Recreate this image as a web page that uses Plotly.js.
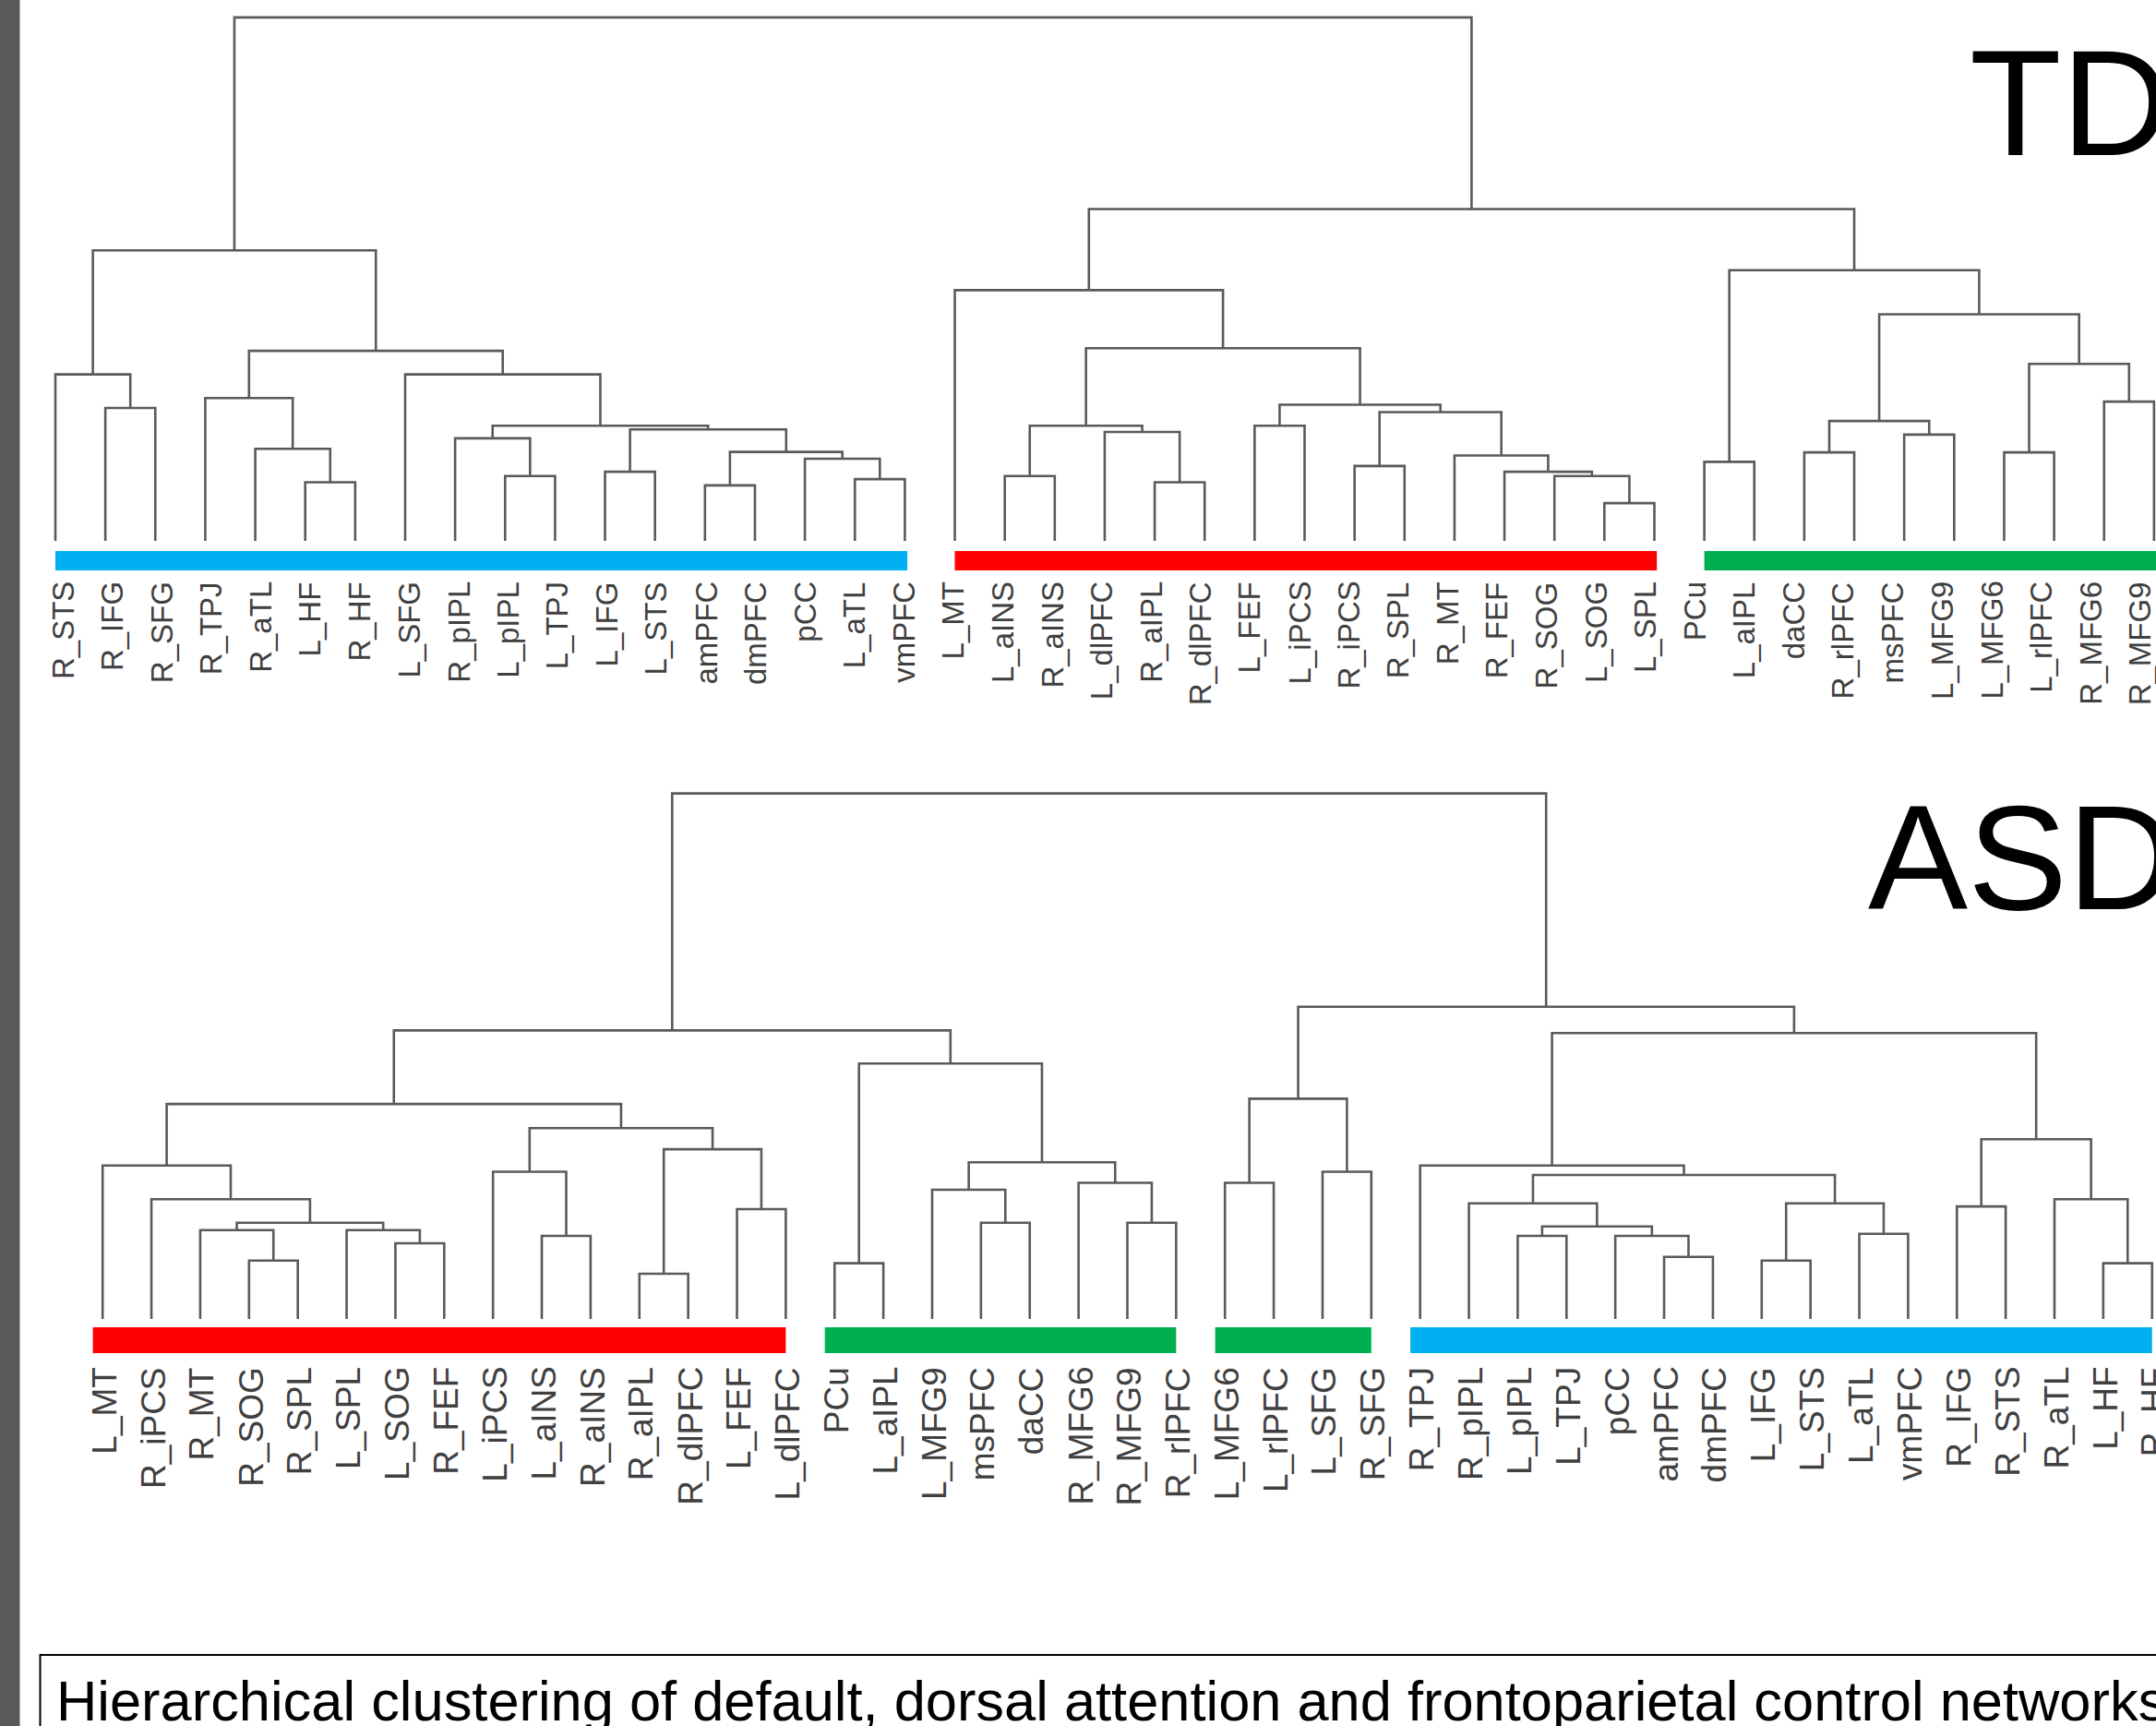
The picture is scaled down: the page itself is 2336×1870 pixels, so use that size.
<!DOCTYPE html>
<html><head><meta charset="utf-8">
<script src="https://cdn.plot.ly/plotly-3.0.1.min.js"></script>
<style>html,body{margin:0;padding:0;background:#fff;overflow:hidden}</style>
</head><body><div id="chart" style="width:2336px;height:1870px"></div>
<script>
// ---------------- DATA ----------------
// Leaf order (tick labels) of the two dendrograms
const tdLeaves = ["R_STS","R_IFG","R_SFG","R_TPJ","R_aTL","L_HF","R_HF","L_SFG","R_pIPL","L_pIPL","L_TPJ","L_IFG","L_STS","amPFC","dmPFC","pCC","L_aTL","vmPFC",
  "L_MT","L_aINS","R_aINS","L_dlPFC","R_aIPL","R_dlPFC","L_FEF","L_iPCS","R_iPCS","R_SPL","R_MT","R_FEF","R_SOG","L_SOG","L_SPL",
  "PCu","L_aIPL","daCC","R_rlPFC","msPFC","L_MFG9","L_MFG6","L_rlPFC","R_MFG6","R_MFG9"];
const asdLeaves = ["L_MT","R_iPCS","R_MT","R_SOG","R_SPL","L_SPL","L_SOG","R_FEF","L_iPCS","L_aINS","R_aINS","R_aIPL","R_dlPFC","L_FEF","L_dlPFC",
  "PCu","L_aIPL","L_MFG9","msPFC","daCC","R_MFG6","R_MFG9","R_rlPFC","L_MFG6","L_rlPFC","L_SFG","R_SFG",
  "R_TPJ","R_pIPL","L_pIPL","L_TPJ","pCC","amPFC","dmPFC","L_IFG","L_STS","L_aTL","vmPFC","R_IFG","R_STS","R_aTL","L_HF","R_HF"];

// Merges: [left, right, height]; left/right = leaf name or index of an earlier merge (root height = 100)
const tdLinks = [
  ["R_IFG","R_SFG",25.4], ["R_STS",0,31.8], ["L_HF","R_HF",11.2], ["R_aTL",2,17.6], ["R_TPJ",3,27.3],
  ["L_pIPL","L_TPJ",12.4], ["R_pIPL",5,19.6], ["L_IFG","L_STS",13.2], ["amPFC","dmPFC",10.6], ["L_aTL","vmPFC",11.8],
  ["pCC",9,15.7], [8,10,17.0], [7,11,21.3], [6,12,22.0], ["L_SFG",13,31.8], [4,14,36.3], [1,15,55.5],
  ["L_aINS","R_aINS",12.4], ["R_aIPL","R_dlPFC",11.2], ["L_dlPFC",18,20.8], [17,19,22.0], ["L_FEF","L_iPCS",22.0],
  ["R_iPCS","R_SPL",14.3], ["L_SOG","L_SPL",7.2], ["R_SOG",23,12.4], ["R_FEF",24,13.2], ["R_MT",25,16.3],
  [22,26,24.6], [21,27,26.0], [20,28,36.8], ["L_MT",29,47.9],
  ["PCu","L_aIPL",15.1], ["daCC","R_rlPFC",16.9], ["msPFC","L_MFG9",20.3], [32,33,22.9], ["L_MFG6","L_rlPFC",16.9],
  ["R_MFG6","R_MFG9",26.6], [35,36,33.8], [34,37,43.3], [31,38,51.7], [30,39,63.4], [16,40,100]
];
const asdLinks = [
  ["R_SOG","R_SPL",11.1], ["R_MT",0,16.9], ["L_SOG","R_FEF",14.4], ["L_SPL",2,16.9], [1,3,18.3], ["R_iPCS",4,22.8],
  ["L_MT",5,29.2], ["L_aINS","R_aINS",15.8], ["L_iPCS",7,28.0], ["R_aIPL","R_dlPFC",8.6], ["L_FEF","L_dlPFC",20.9],
  [9,10,32.3], [8,11,36.3], [6,12,40.9],
  ["PCu","L_aIPL",10.6], ["msPFC","daCC",18.3], ["L_MFG9",15,24.6], ["R_MFG9","R_rlPFC",18.3], ["R_MFG6",17,25.9],
  [16,18,29.8], [14,19,48.6], [13,20,54.9],
  ["L_MFG6","L_rlPFC",25.9], ["L_SFG","R_SFG",28.0], [22,23,41.9],
  ["L_pIPL","L_TPJ",15.8], ["amPFC","dmPFC",11.8], ["pCC",26,15.8], [25,27,17.6], ["R_pIPL",28,22.0],
  ["L_IFG","L_STS",11.1], ["L_aTL","vmPFC",16.2], [30,31,22.0], [29,32,27.4], ["R_TPJ",33,29.2],
  ["R_IFG","R_STS",21.4], ["L_HF","R_HF",10.6], ["R_aTL",36,22.8], [35,37,34.2], [34,38,54.4], [24,39,59.4], [21,40,100]
];

// Network clusters (colour bars)
const tdClusterFirst = ["R_STS","L_MT","PCu"];
const tdClusterLast  = ["vmPFC","L_SPL","R_MFG9"];
const tdClusterColor = ["#00B0F0","#FF0000","#00B050"];
const asdClusterFirst = ["L_MT","PCu","L_MFG6","R_TPJ"];
const asdClusterLast  = ["L_dlPFC","R_rlPFC","R_SFG","R_HF"];
const asdClusterColor = ["#FF0000","#00B050","#00B050","#00B0F0"];

const panelTitles = ["TD","ASD"];
const caption = "Hierarchical clustering of default, dorsal attention and frontoparietal control networks";

// ---------------- LAYOUT GEOMETRY (pixels) ----------------
const W = 2336, H = 1870;
const FONT = "Liberation Sans, Arial, Helvetica, sans-serif";
const LINE = "#5a5a5a", LABEL = "#404040";
const panels = [
  {leaves: tdLeaves, links: tdLinks, first: tdClusterFirst, last: tdClusterLast, colors: tdClusterColor,
   xa: "x", ya: "y", leaf0: 60, step: 54.14, base: 586, unit: 5.671, top: 0, bottom: 800,
   barTop: 597, barBot: 618, barPadL: 0.0, barPadR: 0.05, labTop: 628, labStart: 68, labStep: 53.58, labSize: 33,
   title: panelTitles[0], tX: 2132, tY: 18, tSize: 163},
  {leaves: asdLeaves, links: asdLinks, first: asdClusterFirst, last: asdClusterLast, colors: asdClusterColor,
   xa: "x2", ya: "y2", leaf0: 111.2, step: 52.87, base: 1429, unit: 5.694, top: 800, bottom: 1720,
   barTop: 1438, barBot: 1466, barPadL: 0.2, barPadR: 0.0, labTop: 1479, labStart: 113.2, labStep: 52.87, labSize: 37,
   title: panelTitles[1], tX: 2022, tY: 836, tSize: 162}
];

const traces = [], shapes = [], annotations = [];
const layout = {width: W, height: H, margin: {l:0,r:0,t:0,b:0}, paper_bgcolor: "#fff", plot_bgcolor: "rgba(0,0,0,0)", showlegend: false};

panels.forEach((p, pi) => {
  const idx = {}; p.leaves.forEach((n, i) => idx[n] = i);
  const pos = [];
  const get = r => (typeof r === "string") ? [idx[r], 0] : pos[r];
  const xs = [], ys = [];
  p.links.forEach((L, k) => {
    const a = get(L[0]), b = get(L[1]), h = L[2];
    xs.push(a[0], a[0], b[0], b[0], null);
    ys.push(a[1], h, h, b[1], null);
    pos[k] = [(a[0] + b[0]) / 2, h];
  });
  traces.push({type: "scatter", mode: "lines", x: xs, y: ys, xaxis: p.xa, yaxis: p.ya,
    line: {color: LINE, width: 2.6}, hoverinfo: "skip", connectgaps: false});

  const axSuffix = pi === 0 ? "" : "2";
  layout["xaxis" + axSuffix] = {domain: [0, 1], range: [(0 - p.leaf0) / p.step, (W - p.leaf0) / p.step],
    visible: false, fixedrange: true, anchor: "y" + axSuffix};
  layout["yaxis" + axSuffix] = {domain: [1 - p.bottom / H, 1 - p.top / H],
    range: [(p.base - p.bottom) / p.unit, (p.base - p.top) / p.unit], visible: false, fixedrange: true, anchor: "x" + axSuffix};

  // cluster bars
  p.first.forEach((f, c) => {
    shapes.push({type: "rect", xref: p.xa, yref: "paper", x0: idx[f] - p.barPadL, x1: idx[p.last[c]] + p.barPadR,
      y0: 1 - p.barBot / H, y1: 1 - p.barTop / H, fillcolor: p.colors[c], line: {width: 0}});
  });
  // leaf labels
  p.leaves.forEach((n, i) => {
    const px = p.labStart + p.labStep * i;
    annotations.push({text: n, xref: p.xa, x: (px - p.leaf0) / p.step, yref: "paper", y: 1 - p.labTop / H,
      xanchor: "center", yanchor: "top", textangle: -90, showarrow: false,
      font: {family: FONT, size: p.labSize, color: LABEL}});
  });
  // panel title
  annotations.push({text: p.title, xref: "paper", x: p.tX / W, yref: "paper", y: 1 - p.tY / H,
    xanchor: "left", yanchor: "top", showarrow: false, font: {family: FONT, size: p.tSize, color: "#000"}});
});

// left grey strip and caption box
shapes.push({type: "rect", xref: "paper", yref: "paper", x0: 0, x1: 21.5 / W, y0: -0.01, y1: 1.01, fillcolor: "#595959", line: {width: 0}});
shapes.push({type: "rect", xref: "paper", yref: "paper", x0: 43.5 / W, x1: 1.05, y0: -0.05, y1: 1 - 1793 / H, fillcolor: "rgba(0,0,0,0)", line: {color: "#000", width: 2}});
annotations.push({text: caption, xref: "paper", x: 59 / W, yref: "paper", y: 1 - 1806 / H, xanchor: "left", yanchor: "top",
  showarrow: false, font: {family: FONT, size: 61.4, color: "#000"}});

layout.shapes = shapes;
layout.annotations = annotations;
Plotly.newPlot("chart", traces, layout, {staticPlot: true, displayModeBar: false});
</script></body></html>
